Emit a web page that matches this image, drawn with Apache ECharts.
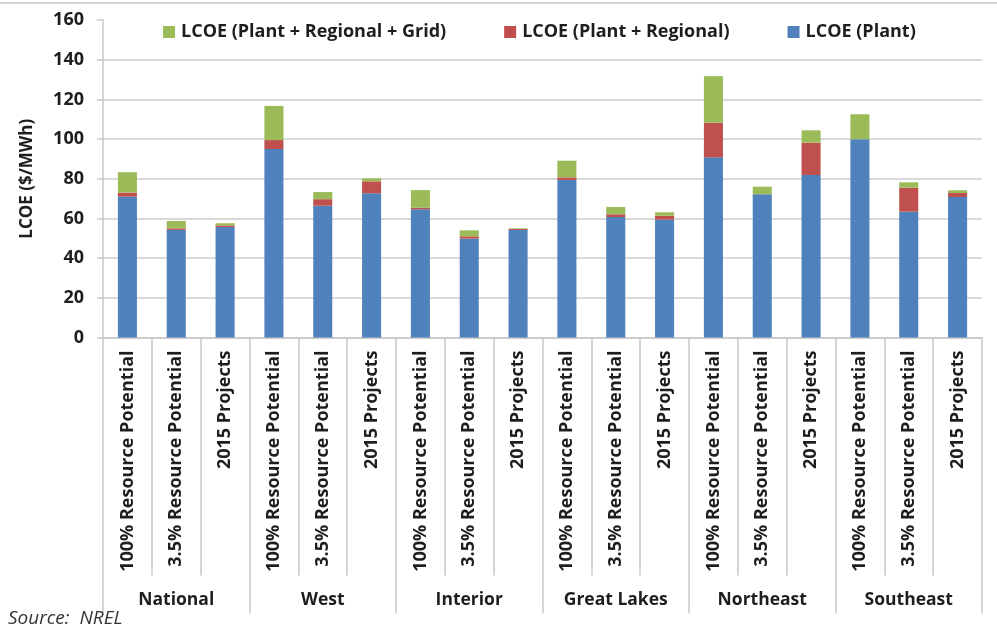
<!DOCTYPE html>
<html>
<head>
<meta charset="utf-8">
<script src="https://cdn.jsdelivr.net/npm/echarts@6/dist/echarts.min.js"></script>
<style>
  html, body { margin: 0; padding: 0; background: #fff; }
  #chart { width: 997px; height: 635px; }
</style>
</head>
<body>
<div id="chart"></div>
<script>
// Scenario labels inside each region, and the regions themselves
const scenarios = ['100% Resource Potential', '3.5% Resource Potential', '2015 Projects'];
const regions = ['National', 'West', 'Interior', 'Great Lakes', 'Northeast', 'Southeast'];

// LCOE components in $/MWh (stacked increments per bar)
const plantCost = [71.0, 54.2, 55.7, 95.0, 66.4, 72.7, 64.6, 49.8, 54.2, 79.4, 60.7, 59.4, 90.8, 72.2, 81.9, 99.9, 63.4, 70.8];
const regionalAdder = [2.0, 0.8, 0.8, 4.5, 3.3, 6.0, 0.8, 1.2, 0.5, 1.3, 1.4, 2.0, 17.5, 0.0, 16.3, 0.0, 12.1, 2.0];
const gridAdder = [10.3, 3.7, 1.1, 17.2, 3.6, 1.5, 8.9, 3.0, 0.3, 8.4, 3.7, 1.7, 23.4, 3.8, 6.2, 12.6, 2.7, 1.4];

const yTicks = { min: 0, max: 160, interval: 20 };

const seriesNames = ['LCOE (Plant + Regional + Grid)', 'LCOE (Plant + Regional)', 'LCOE (Plant)'];

const barCategories = [];
regions.forEach(() => scenarios.forEach(s => barCategories.push(s)));

const FONT = '"Open Sans"';
const TEXT = '#1e1e1e';
const AXIS_GREY = '#c8c8c8';

const chart = echarts.init(document.getElementById('chart'), null, { renderer: 'canvas' });

chart.setOption({
  backgroundColor: '#ffffff',
  animation: false,
  title: {
    text: 'Source:  NREL',
    left: 8,
    top: 609,
    padding: 0,
    textStyle: { fontFamily: FONT, fontStyle: 'italic', fontWeight: 'normal', fontSize: 19, color: '#333' }
  },
  graphic: [{
    type: 'line',
    shape: { x1: 0, y1: 3, x2: 997, y2: 3 },
    style: { stroke: '#d4d4d4', lineWidth: 2 }
  }],
  legend: {
    data: seriesNames,
    left: 104,
    top: 10,
    padding: [13, 78, 13, 59],
    backgroundColor: '#ffffff',
    itemWidth: 12,
    itemHeight: 12,
    itemGap: 58,
    icon: 'rect',
    z: 5,
    textStyle: { fontFamily: FONT, fontWeight: 'bold', fontSize: 18, color: TEXT, padding: [0, 0, 0, 1] }
  },
  grid: { left: 103, right: 15, top: 20, bottom: 297.5, containLabel: false },
  xAxis: [
    {
      type: 'category',
      data: barCategories,
      position: 'bottom',
      axisLine: { show: true, lineStyle: { color: AXIS_GREY, width: 1.5 } },
      axisTick: { show: true, interval: 0, length: 238, lineStyle: { color: AXIS_GREY, width: 1.5 } },
      axisLabel: {
        interval: 0, rotate: 90, margin: 13,
        fontFamily: FONT, fontWeight: 'bold', fontSize: 18, color: TEXT
      }
    },
    {
      type: 'category',
      data: regions,
      position: 'bottom',
      axisLine: { show: false },
      axisTick: { show: true, interval: 0, length: 276, lineStyle: { color: AXIS_GREY, width: 1.5 } },
      axisLabel: {
        interval: 0, margin: 254,
        fontFamily: FONT, fontWeight: 'bold', fontSize: 17.5, color: TEXT
      }
    }
  ],
  yAxis: {
    type: 'value',
    min: yTicks.min,
    max: yTicks.max,
    interval: yTicks.interval,
    name: 'LCOE ($/MWh)',
    nameLocation: 'middle',
    nameRotate: 90,
    nameGap: 67,
    nameTextStyle: { fontFamily: FONT, fontWeight: 'bold', fontSize: 17, color: TEXT },
    axisLine: { show: true, lineStyle: { color: AXIS_GREY, width: 1.5 } },
    axisTick: { show: true, length: 6, lineStyle: { color: AXIS_GREY, width: 1.5 } },
    axisLabel: { margin: 19, fontFamily: FONT, fontWeight: 'bold', fontSize: 18, color: TEXT },
    splitLine: { show: true, lineStyle: { color: '#d9d9d9', width: 2 } }
  },
  series: [
    { name: seriesNames[2], type: 'bar', stack: 'lcoe', xAxisIndex: 0, data: plantCost, barWidth: '39%', itemStyle: { color: '#4f81bd' } },
    { name: seriesNames[1], type: 'bar', stack: 'lcoe', xAxisIndex: 0, data: regionalAdder, itemStyle: { color: '#c0504d' } },
    { name: seriesNames[0], type: 'bar', stack: 'lcoe', xAxisIndex: 0, data: gridAdder, itemStyle: { color: '#9bbb59' } }
  ]
});
</script>
</body>
</html>
